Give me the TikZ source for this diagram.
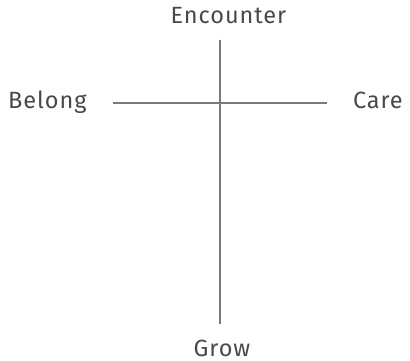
\documentclass[tikz,border=0pt]{standalone}
\usepackage{fontspec}
\setmainfont{Fira Sans}[LetterSpace=4]
\definecolor{txt}{HTML}{484848}
\definecolor{ln}{HTML}{7A7A7A}
\begin{document}
\begin{tikzpicture}[x=1pt,y=-1pt,
  lbl/.style={font=\fontsize{23.5}{26}\selectfont, text=txt, inner sep=0pt},
  axis/.style={draw=ln, line width=1.8pt}]
\useasboundingbox (0,0) rectangle (410,361);
\node[lbl, anchor=base] (enc) at (228.5,24) {Encounter};
\node[lbl, anchor=base west] (bel) at (8,108.5) {Belong};
\node[lbl, anchor=base east] (care) at (403,108.5) {Care};
\node[lbl, anchor=base] (grow) at (222,356) {Grow};
\coordinate (top) at (220,40);
\coordinate (bot) at (220,324);
\coordinate (lft) at (113,103);
\coordinate (rgt) at (327,103);
\draw[axis] (top) -- (bot);
\draw[axis] (lft) -- (rgt);
\end{tikzpicture}
\end{document}
